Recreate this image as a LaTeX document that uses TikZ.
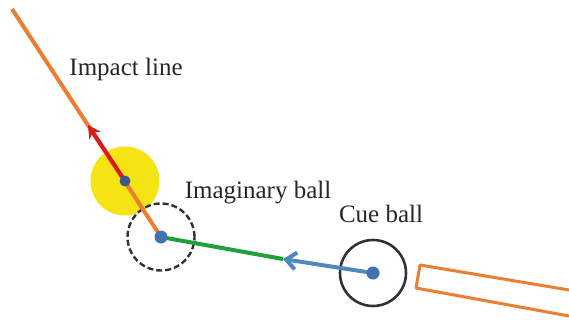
\documentclass[tikz,border=0pt]{standalone}
\usepackage{fontspec}
\setmainfont{Liberation Serif}
\usetikzlibrary{arrows.meta}
\definecolor{orangeline}{RGB}{237,125,49}
\definecolor{bluedot}{RGB}{68,114,176}
\definecolor{arrowblue}{RGB}{80,135,190}
\definecolor{greenline}{RGB}{30,160,60}
\definecolor{yellowball}{RGB}{245,228,20}
\definecolor{redline}{RGB}{235,30,30}
\definecolor{darkline}{RGB}{50,50,50}
\tikzset{
 lbl/.style={font=\fontsize{25}{28}\selectfont,text=black!85,inner sep=0pt,anchor=base},
 dot/.style={circle,fill=bluedot,draw=none,minimum size=13pt,inner sep=0pt},
 ballnode/.style={circle,inner sep=0pt,fill=none},
}
\begin{document}
\begin{tikzpicture}[x=1pt,y=-1pt]
\useasboundingbox (0,0) rectangle (569,320);
\coordinate (top) at (12,9);
\node[ballnode,fill=yellowball,minimum size=69pt] (obj) at (125,181) {};
\node[ballnode,draw=darkline,line width=2.4pt,dash pattern=on 6pt off 3pt,minimum size=67pt] (img) at (161,237) {};
\node[ballnode,draw=darkline,line width=2.6pt,minimum size=66pt] (cue) at (373,273) {};
\coordinate (arrowtip) at (88,125);
\coordinate (mid) at (283,259);
\draw[orangeline,line width=4pt] (top) -- (img.center);
\draw[redline!92!black,line width=4pt,-{Stealth[length=13pt,width=14pt]}] (obj.center) -- (arrowtip);
\draw[orangeline,line width=3pt] (obj.center) -- (img.center);
\draw[greenline,line width=4pt] (img.center) -- (mid);
\draw[arrowblue,line width=4pt,-{Straight Barb[length=10pt,width=17pt]}] (cue.center) -- (mid);
\node[dot,minimum size=11pt,fill=bluedot!80!black] (d1) at (obj.center) {};
\node[dot] (d2) at (img.center) {};
\node[dot] (d3) at (cue.center) {};
\draw[orangeline,line width=3pt,line join=round] (569,290) -- (420,265) -- (416,288) -- (569,316);
\node[lbl] (t1) at (126,76) {Impact line};
\node[lbl] (t2) at (258,198) {Imaginary ball};
\node[lbl] (t3) at (381,222) {Cue ball};
\end{tikzpicture}
\end{document}
